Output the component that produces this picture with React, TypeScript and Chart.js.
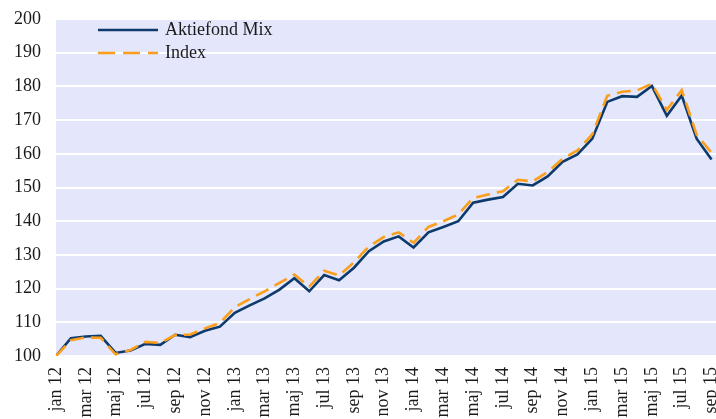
import React, { useEffect, useRef } from "react";
import { Chart, registerables } from "chart.js";

Chart.register(...registerables);

const categories: string[] = [
  "jan 12", "feb 12", "mar 12", "apr 12", "maj 12", "jun 12", "jul 12", "aug 12", "sep 12", "okt 12", "nov 12", "dec 12",
  "jan 13", "feb 13", "mar 13", "apr 13", "maj 13", "jun 13", "jul 13", "aug 13", "sep 13", "okt 13", "nov 13", "dec 13",
  "jan 14", "feb 14", "mar 14", "apr 14", "maj 14", "jun 14", "jul 14", "aug 14", "sep 14", "okt 14", "nov 14", "dec 14",
  "jan 15", "feb 15", "mar 15", "apr 15", "maj 15", "jun 15", "jul 15", "aug 15", "sep 15",
];

const aktiefondMix: number[] = [
  100, 105.3, 105.8, 106.0, 100.9, 101.6, 103.6, 103.3, 106.3, 105.6, 107.5, 108.7,
  112.8, 115.0, 117.1, 119.7, 123.1, 119.2, 124.0, 122.5, 126.2, 131.1, 134.0, 135.5,
  132.2, 136.7, 138.3, 140.0, 145.5, 146.4, 147.2, 151.1, 150.6, 153.3, 157.6, 159.8,
  164.5, 175.4, 177.1, 176.9, 180.1, 171.3, 177.3, 164.5, 158.3,
];

const indexSeries: number[] = [
  100, 104.7, 105.5, 105.4, 100.5, 101.8, 104.2, 103.9, 106.2, 106.4, 108.2, 109.8,
  114.5, 116.9, 119.2, 121.7, 124.2, 120.6, 125.3, 123.9, 127.8, 132.5, 135.3, 136.7,
  133.6, 138.3, 140.0, 142.0, 146.9, 147.9, 148.9, 152.3, 151.8, 154.6, 158.5, 161.0,
  165.8, 177.2, 178.4, 178.8, 180.8, 173.0, 178.9, 165.7, 160.3,
];

const seriesNames: string[] = ["Aktiefond Mix", "Index"];
const yMin = 100;
const yMax = 200;
const yStep = 10;
const labelEvery = 2;

const FONT = "'Liberation Serif', 'DejaVu Serif', serif";
const MIX_COLOR = "#0d3a6c";
const INDEX_COLOR = "#fb9e1b";
const PLOT_BG = "#e4e6fb";

const plotBgPlugin = {
  id: "plotBg",
  beforeDraw(chart: any) {
    const { ctx, chartArea } = chart;
    if (!chartArea) return;
    ctx.save();
    ctx.fillStyle = PLOT_BG;
    ctx.fillRect(chartArea.left, chartArea.top, chartArea.right - chartArea.left, chartArea.bottom - chartArea.top);
    ctx.restore();
  },
};

const innerLegendPlugin = {
  id: "innerLegend",
  afterDraw(chart: any) {
    const { ctx } = chart;
    ctx.save();
    const x0 = 98;
    const x1 = 158;
    const rows = [30, 53];
    ctx.lineWidth = 2.6;
    ctx.strokeStyle = MIX_COLOR;
    ctx.setLineDash([]);
    ctx.beginPath();
    ctx.moveTo(x0, rows[0]);
    ctx.lineTo(x1, rows[0]);
    ctx.stroke();
    ctx.strokeStyle = INDEX_COLOR;
    ctx.setLineDash([17, 8]);
    ctx.beginPath();
    ctx.moveTo(x0, rows[1]);
    ctx.lineTo(x1, rows[1]);
    ctx.stroke();
    ctx.setLineDash([]);
    ctx.fillStyle = "#1a1a1a";
    ctx.font = `18px ${FONT}`;
    ctx.textBaseline = "middle";
    ctx.textAlign = "left";
    ctx.fillText(seriesNames[0], 165, rows[0]);
    ctx.fillText(seriesNames[1], 165, rows[1]);
    ctx.restore();
  },
};

export default function App() {
  const canvasRef = useRef<HTMLCanvasElement | null>(null);

  useEffect(() => {
    document.body.style.margin = "0";
    const canvas = canvasRef.current;
    if (!canvas) return;
    const chart = new Chart(canvas, {
      type: "line",
      data: {
        datasets: [
          {
            label: seriesNames[1],
            data: indexSeries.map((v, i) => ({ x: i, y: v })),
            borderColor: INDEX_COLOR,
            borderWidth: 2.6,
            borderDash: [14, 7],
            pointRadius: 0,
            tension: 0,
            fill: false,
            order: 0,
          },
          {
            label: seriesNames[0],
            data: aktiefondMix.map((v, i) => ({ x: i, y: v })),
            borderColor: MIX_COLOR,
            borderWidth: 2.6,
            pointRadius: 0,
            tension: 0,
            fill: false,
            order: 1,
          },
        ],
      },
      options: {
        responsive: false,
        animation: false,
        devicePixelRatio: 1,
        layout: { padding: { top: 19, right: 0, left: 0, bottom: 0 } },
        plugins: {
          legend: { display: false },
          tooltip: { enabled: false },
        },
        scales: {
          x: {
            type: "linear",
            min: 0,
            max: categories.length - 1 + 0.3,
            grid: { display: false, drawTicks: false },
            border: { display: false },
            afterBuildTicks: (scale: any) => {
              scale.ticks = categories
                .map((_c, i) => i)
                .filter((i) => i % labelEvery === 0)
                .map((i) => ({ value: i }));
            },
            ticks: {
              autoSkip: false,
              maxRotation: 90,
              minRotation: 90,
              padding: 11,
              color: "#1a1a1a",
              font: { family: FONT, size: 18 },
              callback: (v: any) => categories[Math.round(Number(v))] ?? "",
            },
            afterFit: (scale: any) => {
              scale.height = 63;
              scale.paddingLeft = 0;
              scale.paddingRight = 0;
            },
          },
          y: {
            min: yMin,
            max: yMax,
            grid: { color: "#ffffff", lineWidth: 2, drawTicks: false },
            border: { display: false },
            ticks: {
              stepSize: yStep,
              padding: 15,
              color: "#1a1a1a",
              font: { family: FONT, size: 18 },
            },
            afterFit: (scale: any) => {
              scale.width = 56;
              scale.paddingTop = 0;
              scale.paddingBottom = 0;
            },
          },
        },
      },
      plugins: [plotBgPlugin, innerLegendPlugin],
    });
    return () => chart.destroy();
  }, []);

  return (
    <div style={{ width: 716, height: 419, background: "#ffffff" }}>
      <canvas ref={canvasRef} width={716} height={419} style={{ display: "block" }} />
    </div>
  );
}
